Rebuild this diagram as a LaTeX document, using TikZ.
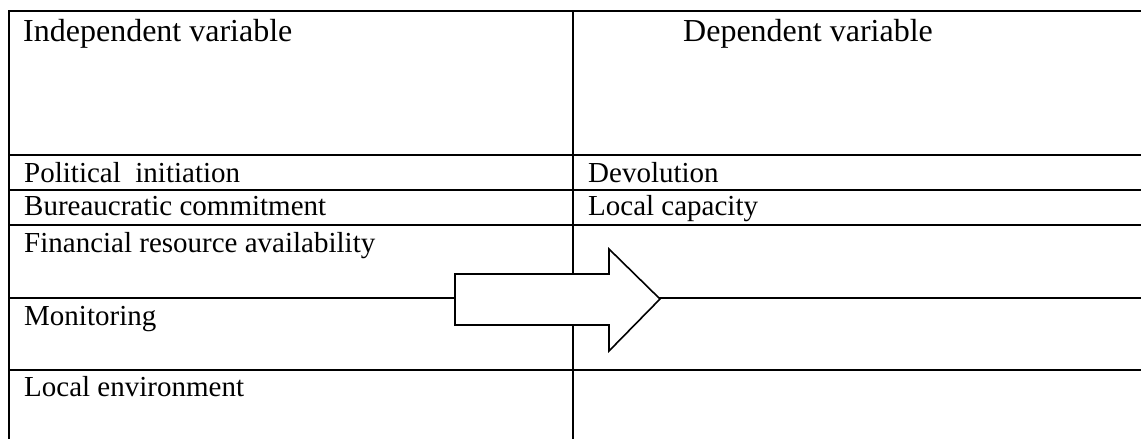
\documentclass[tikz,border=0pt]{standalone}
\usepackage{fontspec}
\setmainfont{Liberation Serif}
\begin{document}
\begin{tikzpicture}[x=1pt,y=-1pt,
  grid/.style={line width=2.4pt,black},
  cell/.style={anchor=base west,inner sep=0pt,font=\fontsize{29}{32}\selectfont},
  head/.style={cell,font=\fontsize{32}{36}\selectfont},
  bigarrow/.style={line width=1.6pt,draw=black,fill=white,line join=miter}]
\useasboundingbox (0,0) rectangle (1141,439);
% table lines
\draw[grid] (9,439) -- (9,11) -- (1141,11);
\draw[grid] (573,11) -- (573,439);
\foreach \yy in {155,190,225,298,370}{\draw[grid] (9,\yy) -- (1141,\yy);}
% texts
\node[head] (iv) at (23,41) {Independent variable};
\node[head] (dv) at (683,41) {Dependent variable};
\node[cell] (pi) at (24,182) {Political\ \ initiation};
\node[cell] (bc) at (24,215) {Bureaucratic commitment};
\node[cell] (fr) at (24,252) {Financial resource availability};
\node[cell] (mo) at (24,325) {Monitoring};
\node[cell] (le) at (24,396) {Local environment};
\node[cell] (de) at (588,182) {Devolution};
\node[cell] (lc) at (588,215) {Local capacity};
% block arrow
\coordinate (tail) at (455,299);
\coordinate (tip) at (660,299);
\draw[bigarrow] (455,274) -- (609,274) -- (609,249) -- (tip) -- (609,351) -- (609,325) -- (455,325) -- cycle;
\end{tikzpicture}
\end{document}
